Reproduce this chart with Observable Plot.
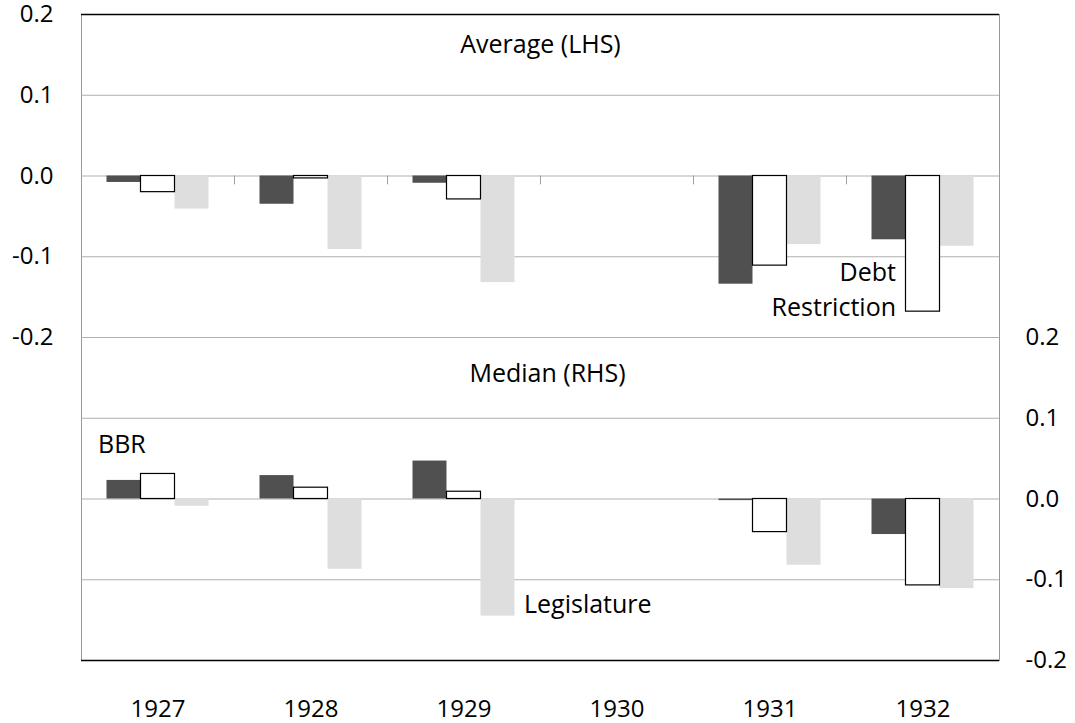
<!DOCTYPE html>
<html>
<head>
<meta charset="utf-8">
<script src="https://cdn.jsdelivr.net/npm/d3@7"></script>
<script src="https://cdn.jsdelivr.net/npm/@observablehq/plot@0.6"></script>
<style>
  html, body { margin: 0; padding: 0; background: #fff; }
  svg { overflow: visible; }
</style>
</head>
<body>
<div id="chart"></div>
<script>
// ---- data ----
const years = [1927, 1928, 1929, 1930, 1931, 1932];
const series = ["BBR", "Debt Restriction", "Legislature"];

// Average (left-hand scale)
const avgBBR  = [-0.008, -0.035, -0.009, null, -0.134, -0.079];
const avgDebt = [-0.020, -0.003, -0.029, null, -0.111, -0.168];
const avgLeg  = [-0.041, -0.091, -0.132, null, -0.085, -0.087];

// Median (right-hand scale)
const medBBR  = [ 0.023,  0.029,  0.047, null, -0.002, -0.044];
const medDebt = [ 0.031,  0.014,  0.009, null, -0.041, -0.107];
const medLeg  = [-0.009, -0.087, -0.145, null, -0.082, -0.111];

const leftTicks  = [0.2, 0.1, 0.0, -0.1, -0.2];
const rightTicks = [0.2, 0.1, 0.0, -0.1, -0.2];
const gridValues = [0.1, 0.0, -0.1, -0.2, -0.3, -0.4, -0.5];
const yDomain = [-0.6, 0.2];
const medianOffset = -0.4;   // RHS zero sits on the LHS -0.4 line

const colors = {"BBR": "#505050", "Debt Restriction": "#ffffff", "Legislature": "#dedede"};
const font = "'Open Sans', sans-serif";

// ---- build table ----
const groupWidth = 2 / 3;
const barW = groupWidth / series.length;
const rows = [];
const addPanel = (panel, base, arrs) => {
  arrs.forEach((arr, s) => {
    arr.forEach((v, i) => {
      if (v == null) return;
      const x1 = years[i] - groupWidth / 2 + s * barW;
      rows.push({panel, series: series[s], year: years[i], value: v,
                 x1, x2: x1 + barW, y1: base, y2: base + v});
    });
  });
};
addPanel("Average", 0, [avgBBR, avgDebt, avgLeg]);
addPanel("Median", medianOffset, [medBBR, medDebt, medLeg]);

const fmt = d => { const r = Math.abs(d) < 1e-9 ? 0 : d; return r.toFixed(1); };

const barMark = (name, extra = {}) => Plot.rect(rows.filter(d => d.series === name), {
  x1: "x1", x2: "x2", y1: "y1", y2: "y2", fill: colors[name], ...extra
});

const pick = (panel, s, year) => rows.filter(d => d.panel === panel && d.series === s && d.year === year);

const chart = Plot.plot({
  width: 1075,
  height: 723,
  marginLeft: 81,
  marginRight: 76,
  marginTop: 14,
  marginBottom: 63,
  x: {domain: [years[0] - 0.5, years[years.length - 1] + 0.5]},
  y: {domain: yDomain},
  style: {fontFamily: font, fontSize: "24px", color: "#000", background: "#fff", overflow: "visible"},
  marks: [
    Plot.frame({stroke: "#999"}),
    Plot.ruleY(gridValues, {stroke: "#b0b0b0"}),
    Plot.ruleY([yDomain[1], yDomain[0]], {stroke: "#000", strokeWidth: 1.3}),
    Plot.ruleX(years.slice(0, -1), {x: d => d + 0.5, y1: 0, y2: -0.011, stroke: "#a0a0a0"}),
    barMark("BBR"),
    barMark("Legislature"),
    barMark("Debt Restriction", {stroke: "#000", strokeWidth: 1.2}),
    Plot.axisY(leftTicks, {anchor: "left", tickSize: 0, tickPadding: 28, tickFormat: fmt, label: null, fontSize: 24}),
    Plot.axisY(rightTicks.map(v => v + medianOffset), {anchor: "right", tickSize: 0, tickPadding: 26,
      tickFormat: d => fmt(d - medianOffset), label: null, fontSize: 24}),
    Plot.axisX(years, {anchor: "bottom", tickSize: 0, tickPadding: 39, tickFormat: d => String(d), label: null, fontSize: 24}),
    Plot.text(["Average (LHS)"], {text: d => d, frameAnchor: "top", lineAnchor: "middle", dy: 30, fontSize: 25}),
    Plot.text(["Median (RHS)"], {text: d => d, frameAnchor: "top", lineAnchor: "middle", dy: 359, dx: 7, fontSize: 25}),
    Plot.text(pick("Average", "Debt Restriction", 1932),
      {x: "x1", y: "y2", text: () => "Debt\nRestriction", textAnchor: "end", lineAnchor: "bottom",
       lineHeight: 1.4, dx: -10, dy: 4, fontSize: 25}),
    Plot.text(pick("Median", "Legislature", 1929),
      {x: "x2", y: "y2", text: () => "Legislature", textAnchor: "start", lineAnchor: "middle", dx: 9, dy: -11, fontSize: 25}),
    Plot.text(pick("Median", "BBR", 1927),
      {x: "x1", y: "y2", text: () => "BBR", textAnchor: "start", lineAnchor: "middle", dx: -9, dy: -35, fontSize: 25})
  ]
});
document.getElementById("chart").appendChild(chart);
</script>
</body>
</html>
